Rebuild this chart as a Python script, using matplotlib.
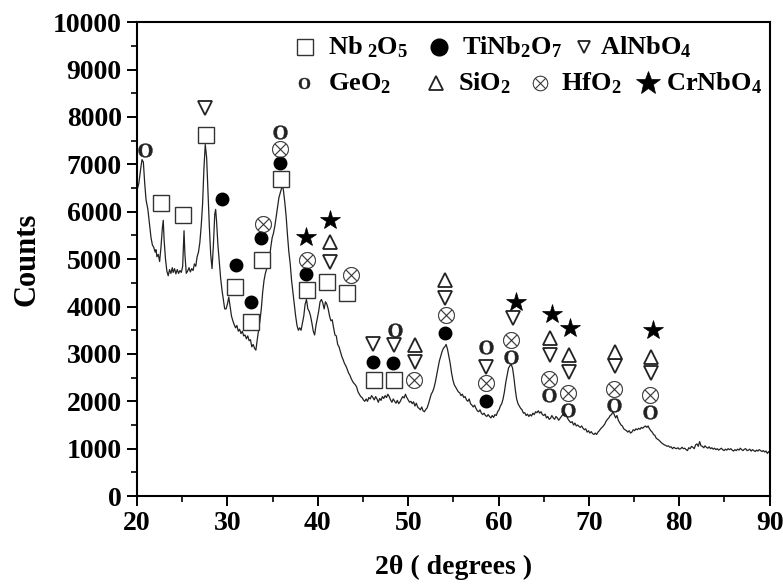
import matplotlib
matplotlib.use('Agg')
import matplotlib.pyplot as plt

plt.rcParams['font.family'] = ['Liberation Serif', 'DejaVu Serif']
plt.rcParams['font.weight'] = 'bold'
plt.rcParams['mathtext.fontset'] = 'custom'
plt.rcParams['mathtext.rm'] = 'Liberation Serif:bold'
plt.rcParams['mathtext.it'] = 'Liberation Serif:bold'
plt.rcParams['mathtext.bf'] = 'Liberation Serif:bold'

# XRD pattern (2theta, counts)
pattern = [
    (20.0, 6450), (20.2, 6600), (20.4, 6900), (20.55, 7100), (20.7, 7050), (20.85, 6600),
    (21.0, 6250), (21.2, 6050), (21.4, 5700), (21.55, 5450), (21.7, 5300), (21.85, 5250),
    (22.0, 5150), (22.1, 5200), (22.2, 5050), (22.35, 5100), (22.5, 4950), (22.65, 5250),
    (22.8, 5650), (22.9, 5820), (23.0, 5400), (23.15, 5000), (23.3, 4750), (23.45, 4650),
    (23.6, 4780), (23.75, 4700), (23.9, 4820), (24.0, 4720), (24.15, 4800), (24.3, 4690),
    (24.45, 4780), (24.6, 4700), (24.75, 4760), (24.9, 4720), (25.05, 4850), (25.2, 5600),
    (25.3, 5100), (25.45, 4700), (25.6, 4750), (25.75, 4820), (25.9, 4730), (26.05, 4800),
    (26.2, 4760), (26.35, 4900), (26.5, 4850), (26.65, 5050), (26.8, 5150), (26.95, 5350),
    (27.1, 5700), (27.25, 6150), (27.4, 6900), (27.55, 7420), (27.7, 7150), (27.85, 6400),
    (28.0, 5700), (28.15, 5100), (28.3, 4800), (28.45, 5300), (28.6, 5950), (28.7, 6050),
    (28.8, 5800), (28.95, 5300), (29.1, 4950), (29.25, 4600), (29.4, 4350), (29.55, 4150),
    (29.7, 3950), (29.85, 3950), (30.0, 4050), (30.15, 4200), (30.3, 4000), (30.45, 3800),
    (30.6, 3700), (30.75, 3620), (30.9, 3550), (31.05, 3600), (31.2, 3480), (31.35, 3520),
    (31.5, 3430), (31.65, 3480), (31.8, 3380), (31.95, 3400), (32.1, 3320), (32.25, 3380),
    (32.4, 3280), (32.55, 3300), (32.7, 3150), (32.85, 3200), (33.0, 3120), (33.15, 3080),
    (33.3, 3300), (33.45, 3500), (33.6, 3700), (33.75, 3950), (33.9, 4300), (34.05, 4550),
    (34.2, 4700), (34.35, 4800), (34.5, 4850), (34.65, 5000), (34.8, 5250), (34.95, 5450),
    (35.1, 5550), (35.25, 5700), (35.4, 5900), (35.55, 6100), (35.7, 6300), (35.85, 6400),
    (36.0, 6500), (36.1, 6550), (36.2, 6450), (36.35, 6200), (36.5, 5900), (36.65, 5500),
    (36.8, 5150), (36.95, 4900), (37.1, 4550), (37.25, 4300), (37.4, 4050), (37.55, 3800),
    (37.7, 3600), (37.85, 3500), (38.0, 3550), (38.15, 3500), (38.3, 3650), (38.45, 3800),
    (38.6, 4050), (38.75, 4150), (38.9, 3950), (39.05, 3900), (39.2, 3800), (39.35, 3650),
    (39.5, 3480), (39.65, 3400), (39.8, 3600), (39.95, 3750), (40.1, 3900), (40.25, 4100),
    (40.4, 4150), (40.55, 4080), (40.7, 3950), (40.85, 4100), (41.0, 4050), (41.15, 3950),
    (41.3, 3800), (41.45, 3700), (41.6, 3720), (41.75, 3550), (41.9, 3400), (42.05, 3380),
    (42.2, 3200), (42.35, 3150), (42.5, 3050), (42.65, 2950), (42.8, 2880), (42.95, 2800),
    (43.1, 2750), (43.25, 2680), (43.4, 2600), (43.55, 2550), (43.7, 2480), (43.85, 2420),
    (44.0, 2380), (44.15, 2350), (44.3, 2300), (44.45, 2200), (44.6, 2150), (44.75, 2100),
    (44.9, 2080), (45.05, 2030), (45.2, 2000), (45.35, 2050), (45.5, 2000), (45.65, 2080),
    (45.8, 2050), (45.95, 2120), (46.1, 2080), (46.25, 2030), (46.4, 2100), (46.55, 2050),
    (46.7, 1980), (46.85, 2060), (47.0, 2020), (47.15, 2100), (47.3, 2060), (47.45, 2120),
    (47.6, 2080), (47.75, 2150), (47.9, 2100), (48.05, 2030), (48.2, 1980), (48.35, 2050),
    (48.5, 2000), (48.65, 1960), (48.8, 2020), (48.95, 1950), (49.1, 1990), (49.25, 2050),
    (49.4, 2100), (49.55, 2070), (49.7, 2150), (49.85, 2080), (50.0, 2030), (50.15, 1980),
    (50.3, 2000), (50.45, 1950), (50.6, 1990), (50.75, 1900), (50.9, 1960), (51.05, 1880),
    (51.2, 1850), (51.35, 1820), (51.5, 1880), (51.65, 1800), (51.8, 1780), (51.95, 1830),
    (52.1, 1860), (52.25, 1950), (52.4, 2050), (52.55, 2150), (52.7, 2200), (52.85, 2280),
    (53.0, 2400), (53.15, 2550), (53.3, 2700), (53.45, 2850), (53.6, 2950), (53.75, 3050),
    (53.9, 3120), (54.05, 3150), (54.2, 3200), (54.35, 3100), (54.5, 2950), (54.65, 2800),
    (54.8, 2600), (54.95, 2450), (55.1, 2350), (55.25, 2300), (55.4, 2250), (55.55, 2200),
    (55.7, 2180), (55.85, 2120), (56.0, 2150), (56.15, 2080), (56.3, 2100), (56.45, 2030),
    (56.6, 2000), (56.75, 2050), (56.9, 1950), (57.05, 1920), (57.2, 1880), (57.35, 1920),
    (57.5, 1850), (57.65, 1800), (57.8, 1780), (57.95, 1820), (58.1, 1750), (58.25, 1720),
    (58.4, 1750), (58.55, 1700), (58.7, 1680), (58.85, 1720), (59.0, 1680), (59.15, 1650),
    (59.3, 1700), (59.45, 1660), (59.6, 1720), (59.75, 1700), (59.9, 1780), (60.05, 1820),
    (60.2, 1900), (60.35, 1950), (60.5, 2050), (60.65, 2200), (60.8, 2400), (60.95, 2550),
    (61.1, 2700), (61.25, 2750), (61.4, 2780), (61.55, 2700), (61.7, 2500), (61.85, 2250),
    (62.0, 2050), (62.15, 1950), (62.3, 1900), (62.45, 1850), (62.6, 1820), (62.75, 1750),
    (62.9, 1760), (63.05, 1700), (63.2, 1730), (63.35, 1680), (63.5, 1720), (63.65, 1690),
    (63.8, 1750), (63.95, 1720), (64.1, 1780), (64.25, 1760), (64.4, 1800), (64.55, 1750),
    (64.7, 1780), (64.85, 1720), (65.0, 1700), (65.15, 1730), (65.3, 1650), (65.45, 1680),
    (65.6, 1620), (65.75, 1640), (65.9, 1700), (66.05, 1650), (66.2, 1620), (66.35, 1680),
    (66.5, 1650), (66.65, 1600), (66.8, 1640), (66.95, 1680), (67.1, 1720), (67.25, 1700),
    (67.4, 1740), (67.55, 1680), (67.7, 1620), (67.85, 1580), (68.0, 1550), (68.15, 1570),
    (68.3, 1500), (68.45, 1540), (68.6, 1480), (68.75, 1500), (68.9, 1470), (69.05, 1450),
    (69.2, 1480), (69.35, 1430), (69.5, 1400), (69.65, 1420), (69.8, 1350), (69.95, 1380),
    (70.1, 1330), (70.25, 1360), (70.4, 1320), (70.55, 1300), (70.7, 1330), (70.85, 1300),
    (71.0, 1350), (71.15, 1380), (71.3, 1420), (71.45, 1450), (71.6, 1480), (71.75, 1520),
    (71.9, 1580), (72.05, 1620), (72.2, 1650), (72.35, 1700), (72.5, 1720), (72.65, 1780),
    (72.8, 1720), (72.95, 1650), (73.1, 1700), (73.25, 1600), (73.4, 1550), (73.55, 1500),
    (73.7, 1480), (73.85, 1420), (74.0, 1400), (74.15, 1380), (74.3, 1350), (74.45, 1380),
    (74.6, 1330), (74.75, 1350), (74.9, 1400), (75.05, 1380), (75.2, 1420), (75.35, 1400),
    (75.5, 1430), (75.65, 1410), (75.8, 1450), (75.95, 1430), (76.1, 1460), (76.25, 1480),
    (76.4, 1450), (76.55, 1480), (76.7, 1420), (76.85, 1380), (77.0, 1350), (77.15, 1300),
    (77.3, 1280), (77.45, 1220), (77.6, 1200), (77.75, 1180), (77.9, 1150), (78.05, 1120),
    (78.2, 1100), (78.35, 1080), (78.5, 1070), (78.65, 1050), (78.8, 1060), (78.95, 1030),
    (79.1, 1040), (79.25, 1000), (79.4, 1030), (79.55, 1010), (79.7, 1000), (79.85, 1020),
    (80.0, 990), (80.15, 1000), (80.3, 1030), (80.45, 1000), (80.6, 1010), (80.75, 980),
    (80.9, 960), (81.05, 1020), (81.2, 1000), (81.35, 1050), (81.5, 1030), (81.65, 1000),
    (81.8, 1080), (81.95, 1100), (82.1, 1050), (82.25, 1150), (82.4, 1060), (82.55, 1050),
    (82.7, 1020), (82.85, 1060), (83.0, 1030), (83.15, 1010), (83.3, 1040), (83.45, 1000),
    (83.6, 1020), (83.75, 990), (83.9, 1010), (84.05, 980), (84.2, 1000), (84.35, 970),
    (84.5, 990), (84.65, 1010), (84.8, 980), (84.95, 960), (85.1, 990), (85.25, 970),
    (85.4, 1000), (85.55, 980), (85.7, 1000), (85.85, 970), (86.0, 950), (86.15, 980),
    (86.3, 960), (86.45, 990), (86.6, 970), (86.75, 1010), (86.9, 980), (87.05, 960),
    (87.2, 990), (87.35, 1000), (87.5, 960), (87.65, 970), (87.8, 990), (87.95, 950),
    (88.1, 980), (88.25, 960), (88.4, 940), (88.55, 970), (88.7, 950), (88.85, 980),
    (89.0, 960), (89.15, 940), (89.3, 960), (89.45, 930), (89.6, 950), (89.75, 900),
    (89.9, 940), (90.0, 920),
]
two_theta = [p[0] for p in pattern]
counts = [p[1] for p in pattern]

# peak labels, (2theta, height of symbol)
nb2o5 = [(22.7, 6180), (25.1, 5930), (27.6, 7620), (30.8, 4420), (32.6, 3680), (33.8, 4980),
         (35.9, 6700), (38.8, 4350), (41.0, 4520), (43.2, 4290), (46.2, 2450), (48.4, 2450)]
tinb2o7 = [(29.4, 6280), (31.0, 4870), (32.6, 4100), (33.7, 5440), (35.8, 7030), (38.7, 4680),
           (46.1, 2830), (48.3, 2810), (54.1, 3450), (58.6, 2010)]
alnbo4 = [(27.5, 8180), (41.3, 4940), (46.1, 3220), (48.4, 3190), (50.8, 2830), (54.1, 4170),
          (58.6, 2730), (61.6, 3750), (65.7, 2970), (67.8, 2620), (72.9, 2740), (76.9, 2590)]
geo2 = [(20.9, 7300), (35.8, 7690), (48.5, 3500), (58.6, 3150), (61.4, 2940), (65.6, 2130),
        (67.7, 1810), (72.8, 1920), (76.8, 1780)]
sio2 = [(41.3, 5370), (50.8, 3190), (54.1, 4560), (65.7, 3330), (67.8, 2970), (72.9, 3040),
        (76.9, 2940)]
hfo2 = [(33.9, 5750), (35.8, 7330), (38.8, 4980), (43.7, 4660), (50.7, 2460), (54.2, 3820),
        (58.6, 2390), (61.4, 3290), (65.6, 2480), (67.7, 2170), (72.8, 2270), (76.8, 2130)]
crnbo4 = [(38.7, 5470), (41.3, 5820), (61.9, 4100), (65.9, 3850), (67.9, 3540), (77.1, 3500)]

x_ticks = [20, 30, 40, 50, 60, 70, 80, 90]
y_ticks = [0, 1000, 2000, 3000, 4000, 5000, 6000, 7000, 8000, 9000, 10000]

ink = '#222222'
styles = {
    'nb2o5': dict(marker='s', ms=11, mfc='white', mec='#333333', mew=1.0),
    'tinb2o7': dict(marker='o', ms=9, mfc='black', mec='black', mew=1.0),
    'alnbo4': dict(marker='v', ms=9.5, mfc='white', mec=ink, mew=1.3),
    'geo2': dict(marker=r'$\mathrm{O}$', ms=10, mfc=ink, mec=ink, mew=0.3),
    'sio2': dict(marker='^', ms=9.5, mfc='white', mec=ink, mew=1.3),
    'hfo2': dict(marker=r'$\otimes$', ms=12, mfc=ink, mec=ink, mew=0.2),
    'crnbo4': dict(marker='*', ms=15, mfc='black', mec='black', mew=0.5),
}
# legend symbols are a little different in size
legend_ms = {'nb2o5': 12, 'tinb2o7': 12, 'alnbo4': 8, 'geo2': 8, 'sio2': 10,
             'hfo2': 11, 'crnbo4': 18}
phases = {'nb2o5': nb2o5, 'tinb2o7': tinb2o7, 'alnbo4': alnbo4, 'geo2': geo2,
          'sio2': sio2, 'hfo2': hfo2, 'crnbo4': crnbo4}

fig = plt.figure(figsize=(7.83, 5.85), dpi=100)
ax = fig.add_axes([0.175, 0.152, 0.808, 0.81])

ax.plot(two_theta, counts, color=ink, lw=0.9, zorder=2)

for name, pts in phases.items():
    xs = [p[0] for p in pts]
    ys = [p[1] for p in pts]
    ax.plot(xs, ys, ls='none', zorder=3, **styles[name])

# legend drawn as two rows of symbol + formula
rows = [
    [('nb2o5', 0.265, 0.302, r'Nb$_{\ 2}$O$_5$'), ('tinb2o7', 0.477, 0.513, r'TiNb$_2$O$_7$'),
     ('alnbo4', 0.706, 0.731, r'AlNbO$_4$')],
    [('geo2', 0.264, 0.302, r'GeO$_2$'), ('sio2', 0.472, 0.507, r'SiO$_2$'),
     ('hfo2', 0.637, 0.670, r'HfO$_2$'), ('crnbo4', 0.807, 0.836, r'CrNbO$_4$')],
]
row_y = [0.947, 0.871]
for row, yy in zip(rows, row_y):
    for name, xm, xt, label in row:
        st = dict(styles[name])
        st['ms'] = legend_ms[name]
        ax.plot([xm], [yy], transform=ax.transAxes, ls='none', clip_on=False, **st)
        ax.text(xt, yy, label, transform=ax.transAxes, ha='left', va='center',
                fontsize=19, fontweight='bold')

ax.set_xlim(20, 90)
ax.set_ylim(0, 10000)
ax.set_xticks(x_ticks)
ax.set_yticks(y_ticks)
ax.set_xticks([25, 35, 45, 55, 65, 75, 85], minor=True)
ax.set_yticks([500, 1500, 2500, 3500, 4500, 5500, 6500, 7500, 8500, 9500], minor=True)
ax.tick_params(which='major', direction='out', length=7, width=1.4, labelsize=20, pad=4)
ax.tick_params(which='minor', direction='out', length=4, width=1.2)
for lab in ax.get_xticklabels() + ax.get_yticklabels():
    lab.set_fontweight('bold')
for sp in ax.spines.values():
    sp.set_linewidth(1.5)

ax.set_xlabel('2θ ( degrees )', fontsize=20, fontweight='bold', labelpad=13)
ax.set_ylabel('Counts', fontsize=22, fontweight='bold', labelpad=8)

fig.savefig('out.png', dpi=100)
